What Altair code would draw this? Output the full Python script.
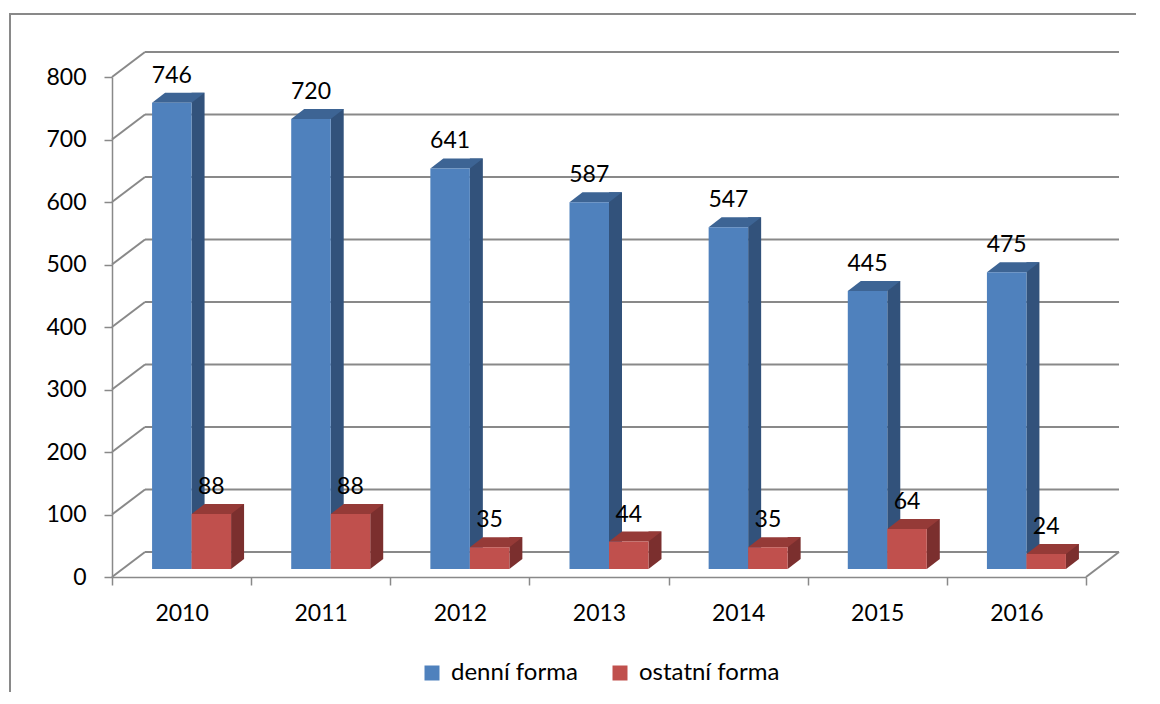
import altair as alt
import pandas as pd

# ---- data ----
years = ["2010", "2011", "2012", "2013", "2014", "2015", "2016"]
denni = [746, 720, 641, 587, 547, 445, 475]
ostatni = [88, 88, 35, 44, 35, 64, 24]
series_names = ["denní forma", "ostatní forma"]
y_ticks = [0, 100, 200, 300, 400, 500, 600, 700, 800]

# ---- styles ----
W, H = 974, 500
GRAY = "#898989"
DX, DY = 33, -25          # back-wall depth
BW = 39.5                 # bar front width
BDX, BDY = 13, -10        # bar depth
LIFT = -8                 # bars sit slightly behind front plane
FONT = "Lato"
AXIS_FS = 23
LABEL_FS = 23
LEGEND_FS = 24
offsets = {series_names[0]: -9.75, series_names[1]: 29.75}
front_c = {series_names[0]: "#4F81BD", series_names[1]: "#C0504D"}
top_c = {series_names[0]: "#3D6494", series_names[1]: "#953A37"}
side_c = {series_names[0]: "#32527B", series_names[1]: "#7B2F2E"}

rows = []
for s, vals in zip(series_names, [denni, ostatni]):
    for yr, v in zip(years, vals):
        rows.append({"year": yr, "series": s, "value": v, "zero": 0})
df = pd.DataFrame(rows)
ticks_df = pd.DataFrame({"tick": y_ticks})
zero_df = pd.DataFrame({"tick": [0]})
frame_df = pd.DataFrame({"a": [0]})

yscale = alt.Scale(domain=[0, 800], nice=False, zero=True)
yaxis = alt.Axis(values=y_ticks, grid=False, labelFontSize=AXIS_FS, labelFont=FONT,
                 labelColor="black", tickSize=8, tickColor=GRAY, tickWidth=1.5,
                 domainColor=GRAY, domainWidth=1.5, labelPadding=18)
xscale = alt.Scale(type="band", domain=years, paddingInner=0, paddingOuter=0)
xaxis = alt.Axis(tickBand="extent", labelFontSize=AXIS_FS, labelFont=FONT, labelColor="black",
                 tickSize=8, tickColor=GRAY, tickWidth=1.5, domainColor=GRAY,
                 domainWidth=1.5, labelPadding=17, labelAngle=0)

X = alt.X("year:N", scale=xscale, axis=xaxis, title=None)


def Y(field):
    return alt.Y(field, scale=yscale, axis=yaxis, title=None)


frame = alt.Chart(frame_df).mark_rect(filled=False, color=GRAY, strokeWidth=2).encode(
    x=alt.value(-102), y=alt.value(-63), x2=alt.value(1300), y2=alt.value(900))

grid_back = alt.Chart(ticks_df).mark_rule(
    color=GRAY, strokeWidth=2, xOffset=DX, x2Offset=DX, yOffset=DY).encode(
    y=Y("tick:Q"), x=alt.value(0), x2=alt.value(W))

grid_side = alt.Chart(ticks_df).mark_rule(
    color=GRAY, strokeWidth=2, x2Offset=DX, y2Offset=DY).encode(
    x=alt.value(0), x2=alt.value(0), y=Y("tick:Q"), y2=alt.Y2("tick:Q"))

floor_right = alt.Chart(zero_df).mark_rule(
    color=GRAY, strokeWidth=2, x2Offset=DX, y2Offset=DY).encode(
    x=alt.value(W), x2=alt.value(W), y=Y("tick:Q"), y2=alt.Y2("tick:Q"))

legend = alt.Legend(title=None, orient="none", legendX=308, legendY=584,
                    direction="horizontal", symbolType="square", symbolSize=225,
                    symbolStrokeWidth=0, symbolOpacity=1, labelFontSize=LEGEND_FS,
                    labelFont=FONT, labelColor="black", labelOffset=7,
                    columnPadding=30, padding=0)
color = alt.Color("series:N",
                  scale=alt.Scale(domain=series_names,
                                  range=[front_c[s] for s in series_names]),
                  legend=legend)

layers = [frame, grid_back, grid_side, floor_right]
label_layers = []
for s in series_names:
    base = alt.Chart(df).transform_filter(alt.datum.series == s)
    off = offsets[s]
    side = base.mark_bar(width=BDX, color=side_c[s], xOffset=off + BW / 2 + BDX / 2,
                         yOffset=LIFT + BDY, y2Offset=LIFT + BDY).encode(
        x=X, y=Y("value:Q"), y2=alt.Y2("zero:Q"))
    tri = base.mark_point(shape=f"M {BW/2} 0 L {BW/2} {BDY} L {BW/2 + BDX} {BDY} Z",
                          size=4, filled=True, opacity=1, color=side_c[s],
                          strokeWidth=0, xOffset=off, yOffset=LIFT).encode(
        x=X, y=Y("zero:Q"))
    top = base.mark_point(
        shape=f"M {-BW/2} 0 L {BW/2} 0 L {BW/2 + BDX} {BDY} L {-BW/2 + BDX} {BDY} Z",
        size=4, filled=True, opacity=1, color=top_c[s], strokeWidth=0,
        xOffset=off, yOffset=LIFT).encode(x=X, y=Y("value:Q"))
    front = base.mark_bar(width=BW, xOffset=off, yOffset=LIFT, y2Offset=LIFT).encode(
        x=X, y=Y("value:Q"), y2=alt.Y2("zero:Q"), color=color)
    lab = base.mark_text(font=FONT, fontSize=LABEL_FS, color="black", baseline="alphabetic",
                         xOffset=off, dy=LIFT - 20).encode(
        x=X, y=Y("value:Q"), text="value:Q")
    layers += [side, tri, top, front]
    label_layers.append(lab)

chart = alt.layer(*layers, *label_layers).properties(
    width=W, height=H,
    autosize=alt.AutoSizeParams(type="none"),
    padding={"left": 104, "top": 69, "right": 50, "bottom": 115},
    background="white",
).configure_view(strokeWidth=0)

chart.save("out.html", embed_options={"renderer": "svg", "actions": False})
